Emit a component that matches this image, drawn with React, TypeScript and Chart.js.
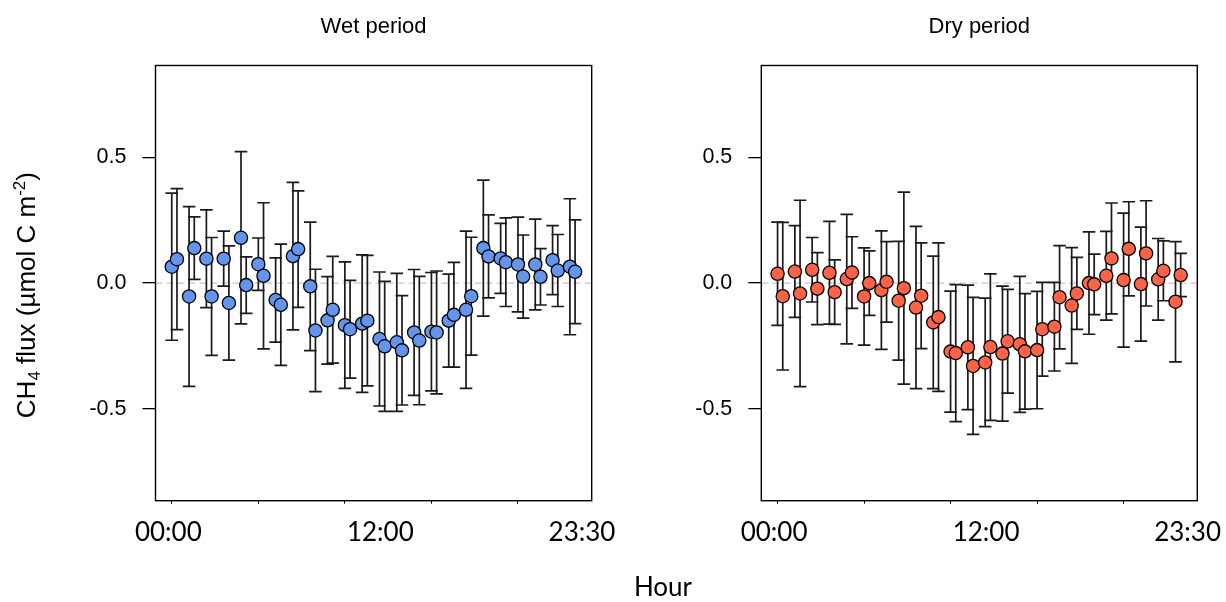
import React, { useEffect, useRef } from 'react';
import { Chart, registerables } from 'chart.js';

Chart.register(...registerables);

// ---- Data ----
const TIMES = [
  '00:00', '00:30', '01:00', '01:30', '02:00', '02:30', '03:00', '03:30',
  '04:00', '04:30', '05:00', '05:30', '06:00', '06:30', '07:00', '07:30',
  '08:00', '08:30', '09:00', '09:30', '10:00', '10:30', '11:00', '11:30',
  '12:00', '12:30', '13:00', '13:30', '14:00', '14:30', '15:00', '15:30',
  '16:00', '16:30', '17:00', '17:30', '18:00', '18:30', '19:00', '19:30',
  '20:00', '20:30', '21:00', '21:30', '22:00', '22:30', '23:00', '23:30',
];

const WET_MEAN = [
  0.065, 0.095, -0.053, 0.139, 0.097, -0.053, 0.097, -0.079,
  0.18, -0.008, 0.075, 0.029, -0.067, -0.086, 0.107, 0.135,
  -0.013, -0.188, -0.148, -0.106, -0.167, -0.183, -0.161, -0.149,
  -0.222, -0.251, -0.235, -0.267, -0.196, -0.228, -0.193, -0.196,
  -0.149, -0.126, -0.106, -0.052, 0.139, 0.106, 0.098, 0.083,
  0.074, 0.026, 0.074, 0.025, 0.091, 0.05, 0.065, 0.045,
];
const WET_SE = [
  0.292, 0.28, 0.357, 0.124, 0.194, 0.234, 0.109, 0.227,
  0.342, 0.112, 0.104, 0.29, 0.167, 0.241, 0.293, 0.231,
  0.255, 0.243, 0.174, 0.212, 0.251, 0.194, 0.273, 0.259,
  0.266, 0.258, 0.274, 0.217, 0.25, 0.255, 0.235, 0.244,
  0.185, 0.208, 0.312, 0.234, 0.27, 0.165, 0.139, 0.176,
  0.188, 0.165, 0.18, 0.112, 0.137, 0.143, 0.27, 0.206,
];

const DRY_MEAN = [
  0.037, -0.052, 0.046, -0.041, 0.053, -0.022, 0.041, -0.036,
  0.016, 0.042, -0.053, 0.0, -0.028, 0.005, -0.07, -0.02,
  -0.097, -0.05, -0.156, -0.135, -0.272, -0.278, -0.255, -0.329,
  -0.315, -0.254, -0.28, -0.231, -0.243, -0.271, -0.266, -0.183,
  -0.173, -0.056, -0.089, -0.041, 0.0, -0.005, 0.029, 0.098,
  0.012, 0.136, -0.004, 0.118, 0.015, 0.049, -0.074, 0.032,
];
const DRY_SE = [
  0.205, 0.293, 0.182, 0.37, 0.128, 0.143, 0.204, 0.128,
  0.257, 0.142, 0.193, 0.128, 0.235, 0.16, 0.236, 0.381,
  0.322, 0.21, 0.263, 0.295, 0.24, 0.272, 0.247, 0.272,
  0.255, 0.291, 0.268, 0.206, 0.27, 0.229, 0.233, 0.186,
  0.176, 0.205, 0.23, 0.143, 0.203, 0.12, 0.176, 0.22,
  0.266, 0.187, 0.226, 0.209, 0.162, 0.119, 0.239, 0.086,
];

const Y_TICKS = [-0.5, 0, 0.5];
const X_TICK_MARKS = [0, 5, 10, 15, 20];
const X_LABELS = ['00:00', '12:00', '23:30'];
const X_LABEL_POS = [-0.2, 12.05, 23.7];

const X_MIN = -0.94;
const X_MAX = 24.26;
const Y_MIN = -0.864;
const Y_MAX = 0.864;

// the figure plots hh:mm as hh + mm/100 on its hour axis
function timeToX(t: string): number {
  const [h, m] = t.split(':').map(Number);
  return h + m / 100;
}

// ---- Layout constants ----
const W = 1226;
const H = 602;
const AREA_TOP = 65.5;
const AREA_BOTTOM = 500.7;
const YAXIS_W = 155.5;

const panelPlugin = {
  id: 'panelDecor',
  beforeDatasetsDraw(chart: any) {
    const { ctx, chartArea: a, scales } = chart;
    const ys = scales.y;
    ctx.save();
    // zero reference line
    const y0 = ys.getPixelForValue(0);
    ctx.strokeStyle = '#c6c6c6';
    ctx.lineWidth = 1.2;
    ctx.setLineDash([7, 4]);
    ctx.beginPath();
    ctx.moveTo(a.left, y0);
    ctx.lineTo(a.right, y0);
    ctx.stroke();
    ctx.setLineDash([]);
    // error bars
    chart.data.datasets.forEach((ds: any, i: number) => {
      const meta = chart.getDatasetMeta(i);
      meta.data.forEach((el: any, j: number) => {
        const d = ds.data[j];
        const yt = ys.getPixelForValue(d.y + d.err);
        const yb = ys.getPixelForValue(d.y - d.err);
        ctx.strokeStyle = '#1a1a1a';
        ctx.lineWidth = 1.7;
        ctx.beginPath();
        ctx.moveTo(el.x, yt);
        ctx.lineTo(el.x, yb);
        ctx.moveTo(el.x - 6.3, yt);
        ctx.lineTo(el.x + 6.3, yt);
        ctx.moveTo(el.x - 6.3, yb);
        ctx.lineTo(el.x + 6.3, yb);
        ctx.stroke();
      });
    });
    // frame
    ctx.strokeStyle = '#000';
    ctx.lineWidth = 1.4;
    ctx.strokeRect(a.left, a.top, a.right - a.left, a.bottom - a.top);
    ctx.restore();
  },
  afterDraw(chart: any, _args: any, opts: any) {
    const { ctx, chartArea: a } = chart;
    ctx.save();
    ctx.fillStyle = '#000';
    ctx.textAlign = 'center';
    ctx.textBaseline = 'alphabetic';
    ctx.font = '22px "Liberation Sans", Arial, sans-serif';
    ctx.fillText(opts.title, (a.left + a.right) / 2, 33);

    if (opts.xTitle) {
      ctx.font = '26px Lato, "Open Sans", sans-serif';
      ctx.fillText(opts.xTitle, opts.xTitleX, opts.xTitleY);
    }

    if (opts.yTitle) {
      const big = '26px "Liberation Sans", Arial, sans-serif';
      const small = '17px "Liberation Sans", Arial, sans-serif';
      const segs: { t: string; f: string; dy: number }[] = opts.yTitle.map((s: any) => ({
        t: s.t,
        f: s.k === 'n' ? big : small,
        dy: s.k === 'sub' ? 5 : s.k === 'sup' ? -10 : 0,
      }));
      let total = 0;
      segs.forEach((s) => {
        ctx.font = s.f;
        total += ctx.measureText(s.t).width;
      });
      ctx.translate(opts.yTitleX, (a.top + a.bottom) / 2 + 12);
      ctx.rotate(-Math.PI / 2);
      ctx.textAlign = 'left';
      let x = -total / 2;
      segs.forEach((s) => {
        ctx.font = s.f;
        ctx.fillText(s.t, x, s.dy);
        x += ctx.measureText(s.t).width;
      });
    }
    ctx.restore();
  },
};

function makeConfig(
  mean: number[],
  se: number[],
  color: string,
  boxLeft: number,
  boxRight: number,
  decor: any
): any {
  const data = TIMES.map((t, i) => ({ x: timeToX(t), y: mean[i], err: se[i] }));
  return {
    type: 'scatter',
    data: {
      datasets: [
        {
          data,
          showLine: false,
          pointRadius: 6.6,
          pointHoverRadius: 6.6,
          pointBackgroundColor: color,
          pointBorderColor: '#000',
          pointBorderWidth: 1.3,
          clip: false,
        },
      ],
    },
    options: {
      responsive: false,
      animation: false,
      devicePixelRatio: 1,
      events: [],
      layout: {
        padding: {
          left: boxLeft - YAXIS_W,
          right: W - boxRight,
          top: AREA_TOP,
          bottom: 0,
        },
      },
      plugins: {
        legend: { display: false },
        tooltip: { enabled: false },
        title: { display: false },
        panelDecor: decor,
      },
      scales: {
        x: {
          type: 'linear',
          position: 'bottom',
          weight: 0,
          min: X_MIN,
          max: X_MAX,
          afterBuildTicks: (s: any) => {
            s.ticks = X_TICK_MARKS.map((v) => ({ value: v }));
          },
          afterFit: (s: any) => {
            s.height = 3;
            s.paddingLeft = 0;
            s.paddingRight = 0;
          },
          ticks: { display: false },
          grid: {
            drawOnChartArea: false,
            drawTicks: true,
            tickLength: 3,
            color: '#000',
            lineWidth: 1,
          },
          border: { display: false },
        },
        xl: {
          type: 'linear',
          position: 'bottom',
          weight: 1,
          min: X_MIN,
          max: X_MAX,
          afterBuildTicks: (s: any) => {
            s.ticks = X_LABEL_POS.map((v) => ({ value: v }));
          },
          afterFit: (s: any) => {
            s.height = H - AREA_BOTTOM - 3;
            s.paddingLeft = 0;
            s.paddingRight = 0;
          },
          ticks: {
            autoSkip: false,
            maxRotation: 0,
            minRotation: 0,
            padding: 5,
            color: '#000',
            font: { family: 'Lato, "Open Sans", sans-serif', size: 26 },
            callback: (_v: any, i: number) => X_LABELS[i],
          },
          grid: { display: false },
          border: { display: false },
        },
        y: {
          type: 'linear',
          position: 'left',
          min: Y_MIN,
          max: Y_MAX,
          afterBuildTicks: (s: any) => {
            s.ticks = Y_TICKS.map((v) => ({ value: v }));
          },
          afterFit: (s: any) => {
            s.width = YAXIS_W;
            s.paddingTop = 0;
            s.paddingBottom = 0;
          },
          ticks: {
            padding: 16,
            color: '#000',
            font: { family: '"Liberation Sans", Arial, sans-serif', size: 21.5 },
            callback: (v: any) => Number(v).toFixed(1),
          },
          grid: {
            drawOnChartArea: false,
            drawTicks: true,
            tickLength: 13,
            color: '#000',
            lineWidth: 1.3,
          },
          border: { display: false },
        },
      },
    },
    plugins: [panelPlugin],
  };
}

export default function App() {
  const leftRef = useRef<HTMLCanvasElement>(null);
  const rightRef = useRef<HTMLCanvasElement>(null);

  useEffect(() => {
    const c1 = new Chart(
      leftRef.current as HTMLCanvasElement,
      makeConfig(WET_MEAN, WET_SE, '#6495ED', 155.5, 591.7, {
        title: 'Wet period',
        xTitle: 'Hour',
        xTitleX: 663,
        xTitleY: 596,
        yTitleX: 35,
        yTitle: [
          { t: 'CH', k: 'n' },
          { t: '4', k: 'sub' },
          { t: ' flux (µmol C m', k: 'n' },
          { t: '-2', k: 'sup' },
          { t: ')', k: 'n' },
        ],
      })
    );
    const c2 = new Chart(
      rightRef.current as HTMLCanvasElement,
      makeConfig(DRY_MEAN, DRY_SE, '#FF6347', 761.3, 1197.3, {
        title: 'Dry period',
      })
    );
    return () => {
      c1.destroy();
      c2.destroy();
    };
  }, []);

  return (
    <div
      style={{
        position: 'fixed',
        left: 0,
        top: 0,
        width: W,
        height: H,
        background: '#fff',
        overflow: 'hidden',
      }}
    >
      <canvas ref={leftRef} width={W} height={H} style={{ position: 'absolute', left: 0, top: 0 }} />
      <canvas ref={rightRef} width={W} height={H} style={{ position: 'absolute', left: 0, top: 0 }} />
    </div>
  );
}
